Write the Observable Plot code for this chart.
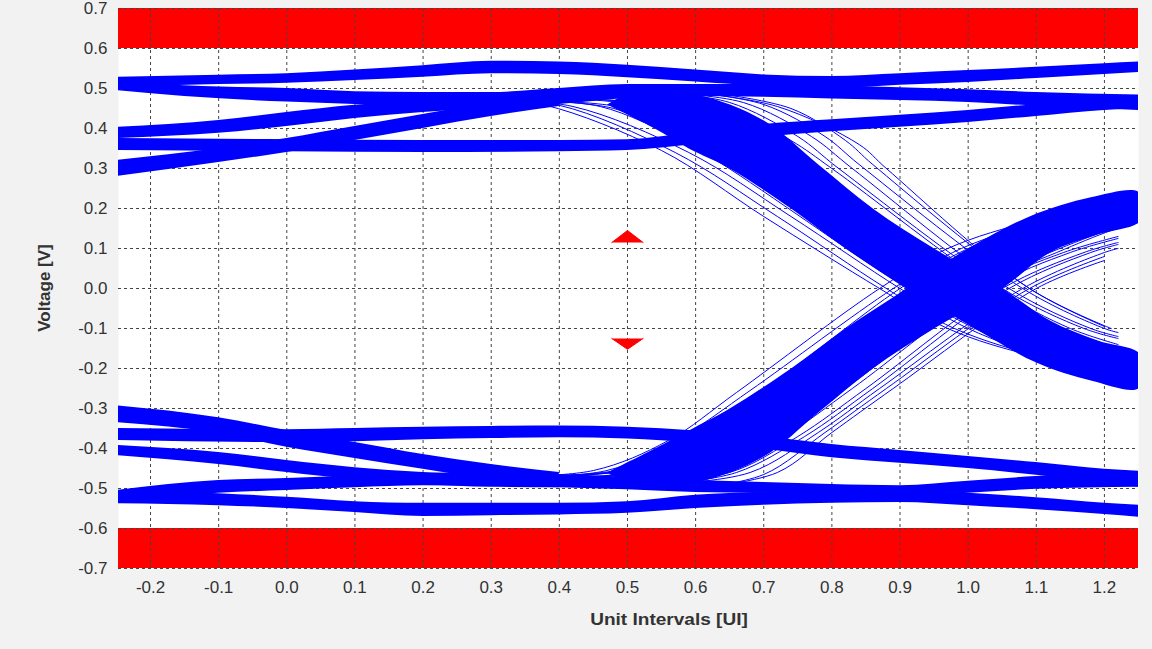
<!DOCTYPE html>
<html>
<head>
<meta charset="utf-8">
<script src="https://cdn.jsdelivr.net/npm/d3@7"></script>
<script src="https://cdn.jsdelivr.net/npm/@observablehq/plot@0.6"></script>
<style>
  html, body { margin: 0; padding: 0; background: #f2f2f2; }
  #wrap { position: relative; width: 1152px; height: 649px; font-family: "Liberation Sans", Arial, sans-serif; }
  .ylab { position: absolute; left: 45px; top: 288px; transform: translate(-50%, -50%) rotate(-90deg); font-weight: bold; font-size: 17px; color: #333; white-space: nowrap; }
  .xlab { position: absolute; left: 669px; top: 620px; transform: translate(-50%, -50%) scaleX(1.12); font-weight: bold; font-size: 17px; color: #333; white-space: nowrap; }
</style>
</head>
<body>
<div id="wrap">
  <div id="chart"></div>
  <div class="ylab">Voltage [V]</div>
  <div class="xlab">Unit Intervals [UI]</div>
</div>
<script>
// ---- tick labels ----
const xTicks = [-0.2, -0.1, 0.0, 0.1, 0.2, 0.3, 0.4, 0.5, 0.6, 0.7, 0.8, 0.9, 1.0, 1.1, 1.2];
const yTicks = [-0.7, -0.6, -0.5, -0.4, -0.3, -0.2, -0.1, 0.0, 0.1, 0.2, 0.3, 0.4, 0.5, 0.6, 0.7];

// ---- limit bands (voltage) ----
const limitLow = [-0.7, -0.6];
const limitHigh = [0.6, 0.7];

// ---- eye mask tips [UI, V] ----
const maskTop = [[0.477, 0.115], [0.5, 0.145], [0.523, 0.115]];
const maskBottom = [[0.477, -0.125], [0.5, -0.152], [0.523, -0.125]];

// ---- rail bundles: [UI, V low, V high] ----
const railU1 = [[-0.25,0.503,0.528],[-0.1,0.51,0.533],[0.0,0.513,0.537],[0.1,0.52,0.546],[0.2,0.528,0.557],[0.3,0.537,0.568],[0.4,0.535,0.566],[0.5,0.527,0.558],[0.6,0.516,0.546],[0.7,0.505,0.534],[0.8,0.5,0.53],[0.9,0.508,0.537],[1.0,0.515,0.545],[1.1,0.525,0.553],[1.2,0.535,0.562],[1.25,0.54,0.566]];
const railM = [[-0.25,0.495,0.52],[-0.15,0.48,0.507],[0.0,0.466,0.5],[0.1,0.46,0.492],[0.2,0.455,0.49],[0.3,0.452,0.49],[0.4,0.46,0.5],[0.5,0.475,0.51],[0.6,0.48,0.51],[0.7,0.478,0.51],[0.8,0.474,0.506],[0.9,0.47,0.502],[1.0,0.465,0.497],[1.1,0.456,0.49],[1.25,0.445,0.484]];
const railR1 = [[-0.25,0.375,0.403],[-0.1,0.388,0.42],[0.0,0.405,0.44],[0.1,0.425,0.458],[0.2,0.44,0.47],[0.3,0.45,0.48]];
const railR2 = [[-0.25,0.28,0.32],[-0.1,0.315,0.35],[0.0,0.34,0.375],[0.1,0.37,0.405],[0.2,0.4,0.435],[0.3,0.43,0.465],[0.4,0.455,0.485]];
const railF = [[-0.25,0.345,0.375],[0.0,0.342,0.372],[0.2,0.34,0.37],[0.4,0.342,0.37],[0.5,0.345,0.372],[0.6,0.36,0.39],[0.7,0.378,0.41],[0.8,0.392,0.422],[0.9,0.403,0.433],[1.0,0.415,0.445],[1.1,0.43,0.46],[1.2,0.445,0.475],[1.25,0.45,0.48]];
const railLB = [[-0.25,-0.538,-0.505],[-0.1,-0.543,-0.513],[0.0,-0.55,-0.522],[0.1,-0.56,-0.533],[0.2,-0.57,-0.537],[0.3,-0.568,-0.537],[0.4,-0.566,-0.537],[0.5,-0.562,-0.533],[0.6,-0.55,-0.517],[0.7,-0.542,-0.51],[0.8,-0.537,-0.505],[0.9,-0.535,-0.5],[1.0,-0.543,-0.512],[1.1,-0.553,-0.523],[1.2,-0.565,-0.537],[1.25,-0.572,-0.542]];
const railLC = [[-0.25,-0.535,-0.505],[-0.1,-0.512,-0.48],[0.0,-0.505,-0.475],[0.1,-0.498,-0.468],[0.2,-0.493,-0.463],[0.3,-0.495,-0.46],[0.4,-0.498,-0.465],[0.5,-0.503,-0.472],[0.6,-0.51,-0.48],[0.7,-0.513,-0.485],[0.8,-0.52,-0.49],[0.9,-0.522,-0.493],[1.0,-0.512,-0.482],[1.1,-0.502,-0.47],[1.25,-0.497,-0.46]];
const railL1 = [[-0.25,-0.335,-0.293],[-0.1,-0.362,-0.323],[0.0,-0.397,-0.355],[0.1,-0.425,-0.385],[0.2,-0.452,-0.415],[0.3,-0.478,-0.44],[0.4,-0.495,-0.46]];
const railL2 = [[-0.25,-0.38,-0.35],[0.0,-0.385,-0.353],[0.1,-0.383,-0.35],[0.2,-0.378,-0.347],[0.3,-0.375,-0.345],[0.4,-0.373,-0.344],[0.5,-0.376,-0.347],[0.6,-0.386,-0.356],[0.7,-0.402,-0.37],[0.8,-0.423,-0.39],[0.9,-0.437,-0.405],[1.0,-0.45,-0.42],[1.1,-0.467,-0.435],[1.2,-0.487,-0.452],[1.25,-0.497,-0.457]];
const railL3 = [[-0.25,-0.418,-0.392],[-0.1,-0.44,-0.41],[0.0,-0.46,-0.43],[0.1,-0.478,-0.448],[0.2,-0.49,-0.46],[0.3,-0.497,-0.465],[0.4,-0.498,-0.468]];

// ---- dense cores of the transitions (outline, [UI, V]) ----
const fallCore = [[0.5,0.49],[0.6,0.485],[0.7,0.42],[0.78,0.31],[0.86,0.2],[0.95,0.1],[1.05,0.0],[1.12,-0.08],[1.19,-0.13],[1.25,-0.16],
                  [1.26,-0.2],[1.25,-0.25],[1.18,-0.23],[1.1,-0.185],[1.0,-0.09],[0.91,0.0],[0.82,0.1],[0.74,0.2],[0.65,0.3],[0.59,0.35],[0.54,0.4],[0.47,0.46]];
const riseCore = [[0.47,-0.46],[0.54,-0.4],[0.59,-0.355],[0.65,-0.3],[0.74,-0.2],[0.82,-0.1],[0.91,0.0],[0.99,0.09],[1.09,0.18],[1.18,0.228],[1.25,0.242],
                  [1.26,0.2],[1.25,0.165],[1.19,0.135],[1.12,0.09],[1.05,0.0],[0.95,-0.1],[0.86,-0.2],[0.78,-0.31],[0.7,-0.42],[0.6,-0.485],[0.5,-0.49]];

// ---- individual transition traces [UI, V] ----
const fallTraces = [
  [[0.3,0.47],[0.38,0.458],[0.55,0.345],[0.7,0.18],[0.87,0],[0.97,-0.1],[1.1,-0.17],[1.25,-0.21]],
  [[0.3,0.47],[0.4,0.458],[0.57,0.34],[0.72,0.18],[0.88,0],[0.98,-0.1],[1.12,-0.175],[1.25,-0.205]],
  [[0.3,0.47],[0.42,0.455],[0.59,0.34],[0.74,0.18],[0.9,0],[1.0,-0.1],[1.13,-0.18],[1.25,-0.225]],
  [[0.35,0.47],[0.46,0.455],[0.58,0.37],[0.64,0.31],[0.91,0],[1.01,-0.1],[1.14,-0.185],[1.25,-0.24]],
  [[0.35,0.47],[0.48,0.45],[0.6,0.36],[0.66,0.3],[0.92,0],[1.02,-0.1],[1.15,-0.18],[1.25,-0.22]],
  [[0.35,0.47],[0.5,0.45],[0.62,0.36],[0.68,0.3],[0.93,0],[1.03,-0.1],[1.15,-0.175],[1.25,-0.215]],
  [[0.4,0.475],[0.52,0.455],[0.64,0.36],[0.7,0.3],[0.95,0],[1.05,-0.1],[1.17,-0.19],[1.25,-0.23]],
  [[0.4,0.475],[0.54,0.455],[0.66,0.36],[0.72,0.3],[0.96,0],[1.07,-0.1],[1.18,-0.19],[1.25,-0.235]],
  [[0.4,0.475],[0.55,0.455],[0.67,0.36],[0.73,0.3],[0.97,0],[1.08,-0.1],[1.18,-0.2],[1.25,-0.245]],
  [[0.45,0.48],[0.56,0.46],[0.68,0.36],[0.74,0.3],[0.98,0],[1.09,-0.1],[1.19,-0.18],[1.25,-0.22]],
  [[0.45,0.48],[0.58,0.46],[0.7,0.36],[0.76,0.3],[1.0,0],[1.11,-0.1],[1.2,-0.17],[1.25,-0.2]],
  [[0.45,0.48],[0.6,0.46],[0.72,0.36],[0.77,0.3],[1.01,0],[1.12,-0.1],[1.21,-0.16],[1.25,-0.18]],
  [[0.5,0.49],[0.61,0.465],[0.72,0.37],[0.78,0.3],[1.02,0],[1.14,-0.1],[1.22,-0.15],[1.25,-0.165]],
  [[0.5,0.49],[0.63,0.465],[0.74,0.37],[0.8,0.3],[1.04,0],[1.15,-0.1],[1.22,-0.14]],
  [[0.55,0.49],[0.65,0.465],[0.75,0.38],[0.81,0.3],[1.05,0],[1.17,-0.1],[1.22,-0.125]],
  [[0.55,0.49],[0.67,0.465],[0.77,0.38],[0.83,0.3],[1.06,0],[1.18,-0.1],[1.22,-0.12]],
  [[0.6,0.49],[0.7,0.46],[0.79,0.38],[0.84,0.31],[1.08,0],[1.2,-0.1],[1.22,-0.11]],
  [[0.6,0.49],[0.72,0.455],[0.84,0.36],[0.88,0.3],[1.09,0],[1.21,-0.1]],
  [[0.62,0.49],[0.74,0.45],[0.82,0.37],[0.86,0.31],[1.09,0.0],[1.2,-0.095]]
];
const riseTraces = [
  [[0.3,-0.47],[0.45,-0.455],[0.56,-0.38],[0.66,-0.26],[0.87,0],[0.97,0.1],[1.1,0.17],[1.25,0.21]],
  [[0.3,-0.47],[0.47,-0.455],[0.58,-0.37],[0.68,-0.255],[0.89,0],[0.99,0.1],[1.12,0.17],[1.25,0.2]],
  [[0.3,-0.47],[0.49,-0.455],[0.6,-0.37],[0.7,-0.255],[0.9,0],[1.0,0.1],[1.13,0.18],[1.25,0.225]],
  [[0.35,-0.47],[0.5,-0.45],[0.61,-0.37],[0.71,-0.25],[0.92,0],[1.02,0.1],[1.15,0.18],[1.25,0.22]],
  [[0.35,-0.47],[0.51,-0.45],[0.62,-0.37],[0.72,-0.25],[0.91,0],[1.01,0.1],[1.14,0.185],[1.25,0.235]],
  [[0.35,-0.47],[0.52,-0.45],[0.63,-0.37],[0.73,-0.25],[0.93,0],[1.04,0.1],[1.16,0.18],[1.25,0.215]],
  [[0.4,-0.475],[0.54,-0.45],[0.65,-0.37],[0.75,-0.25],[0.95,0],[1.06,0.1],[1.17,0.185],[1.25,0.225]],
  [[0.4,-0.475],[0.55,-0.45],[0.66,-0.37],[0.76,-0.25],[0.96,0],[1.07,0.1],[1.18,0.19],[1.25,0.24]],
  [[0.4,-0.475],[0.56,-0.45],[0.67,-0.37],[0.77,-0.25],[0.97,0],[1.08,0.1],[1.19,0.19],[1.25,0.23]],
  [[0.45,-0.48],[0.58,-0.455],[0.69,-0.37],[0.79,-0.25],[0.99,0],[1.1,0.09],[1.2,0.16],[1.25,0.19]],
  [[0.45,-0.48],[0.6,-0.455],[0.7,-0.37],[0.8,-0.25],[1.0,0],[1.12,0.09],[1.21,0.15],[1.25,0.175]],
  [[0.45,-0.48],[0.61,-0.455],[0.71,-0.37],[0.81,-0.25],[1.01,0],[1.13,0.09],[1.21,0.145],[1.25,0.165]],
  [[0.5,-0.49],[0.62,-0.46],[0.72,-0.37],[0.82,-0.25],[1.02,0],[1.14,0.09],[1.22,0.13]],
  [[0.5,-0.49],[0.63,-0.46],[0.73,-0.37],[0.83,-0.25],[1.03,0],[1.15,0.09],[1.22,0.125]],
  [[0.5,-0.49],[0.65,-0.46],[0.75,-0.37],[0.85,-0.25],[1.05,0],[1.17,0.09],[1.22,0.115]],
  [[0.55,-0.49],[0.66,-0.46],[0.76,-0.37],[0.86,-0.25],[1.06,0],[1.18,0.09],[1.22,0.11]],
  [[0.55,-0.49],[0.68,-0.46],[0.78,-0.36],[0.87,-0.25],[1.08,0],[1.2,0.09],[1.22,0.1]],
  [[0.6,-0.5],[0.7,-0.465],[0.79,-0.36],[0.88,-0.25],[1.09,0],[1.2,0.08]],
  [[0.6,-0.5],[0.72,-0.46],[0.8,-0.36],[0.89,-0.25],[1.1,0],[1.2,0.07]]
];

// ---- build ----
const BLUE = "#0000ff";
const RED = "#ff0000";
const rails = [railU1, railM, railR1, railR2, railF, railLB, railLC, railL1, railL2, railL3];
const toRows = (traces) => traces.flatMap((t, i) => t.map(([x, y]) => ({x, y, id: i})));
const limitRows = [{lo: limitLow[0], hi: limitLow[1]}, {lo: limitHigh[0], hi: limitHigh[1]}];
const fmt = d => d.toFixed(1);

const chart = Plot.plot({
  width: 1152,
  height: 649,
  marginLeft: 118,
  marginRight: 14,
  marginTop: 8,
  marginBottom: 81,
  style: {background: "transparent", fontFamily: "'Liberation Sans', Arial, sans-serif", fontSize: "17px", color: "#333"},
  x: {domain: [-0.247, 1.25], ticks: xTicks, tickFormat: fmt, tickSize: 0, tickPadding: 12, label: null},
  y: {domain: [-0.7, 0.7], ticks: yTicks, tickFormat: fmt, tickSize: 0, tickPadding: 11, label: null},
  marks: [
    Plot.frame({fill: "white", stroke: "none"}),
    Plot.rect(limitRows, {y1: "lo", y2: "hi", fill: RED}),
    Plot.gridX(xTicks, {stroke: "#444", strokeOpacity: 1, strokeDasharray: "3,3", strokeWidth: 1}),
    Plot.gridY(yTicks, {stroke: "#444", strokeOpacity: 1, strokeDasharray: "3,3", strokeWidth: 1}),
    ...rails.map(b => Plot.areaY(b, {x: d => d[0], y1: d => d[1], y2: d => d[2], fill: BLUE, curve: "monotone-x", clip: true})),
    Plot.line(fallCore, {x: d => d[0], y: d => d[1], fill: BLUE, stroke: "none", curve: "catmull-rom", clip: true}),
    Plot.line(riseCore, {x: d => d[0], y: d => d[1], fill: BLUE, stroke: "none", curve: "catmull-rom", clip: true}),
    Plot.line(toRows(fallTraces), {x: "x", y: "y", z: "id", stroke: BLUE, strokeWidth: 1, curve: "catmull-rom", clip: true}),
    Plot.line(toRows(riseTraces), {x: "x", y: "y", z: "id", stroke: BLUE, strokeWidth: 1, curve: "catmull-rom", clip: true}),
    Plot.line(maskTop, {x: d => d[0], y: d => d[1], fill: RED, stroke: RED, strokeWidth: 1}),
    Plot.line(maskBottom, {x: d => d[0], y: d => d[1], fill: RED, stroke: RED, strokeWidth: 1})
  ]
});
document.getElementById("chart").append(chart);
</script>
</body>
</html>
